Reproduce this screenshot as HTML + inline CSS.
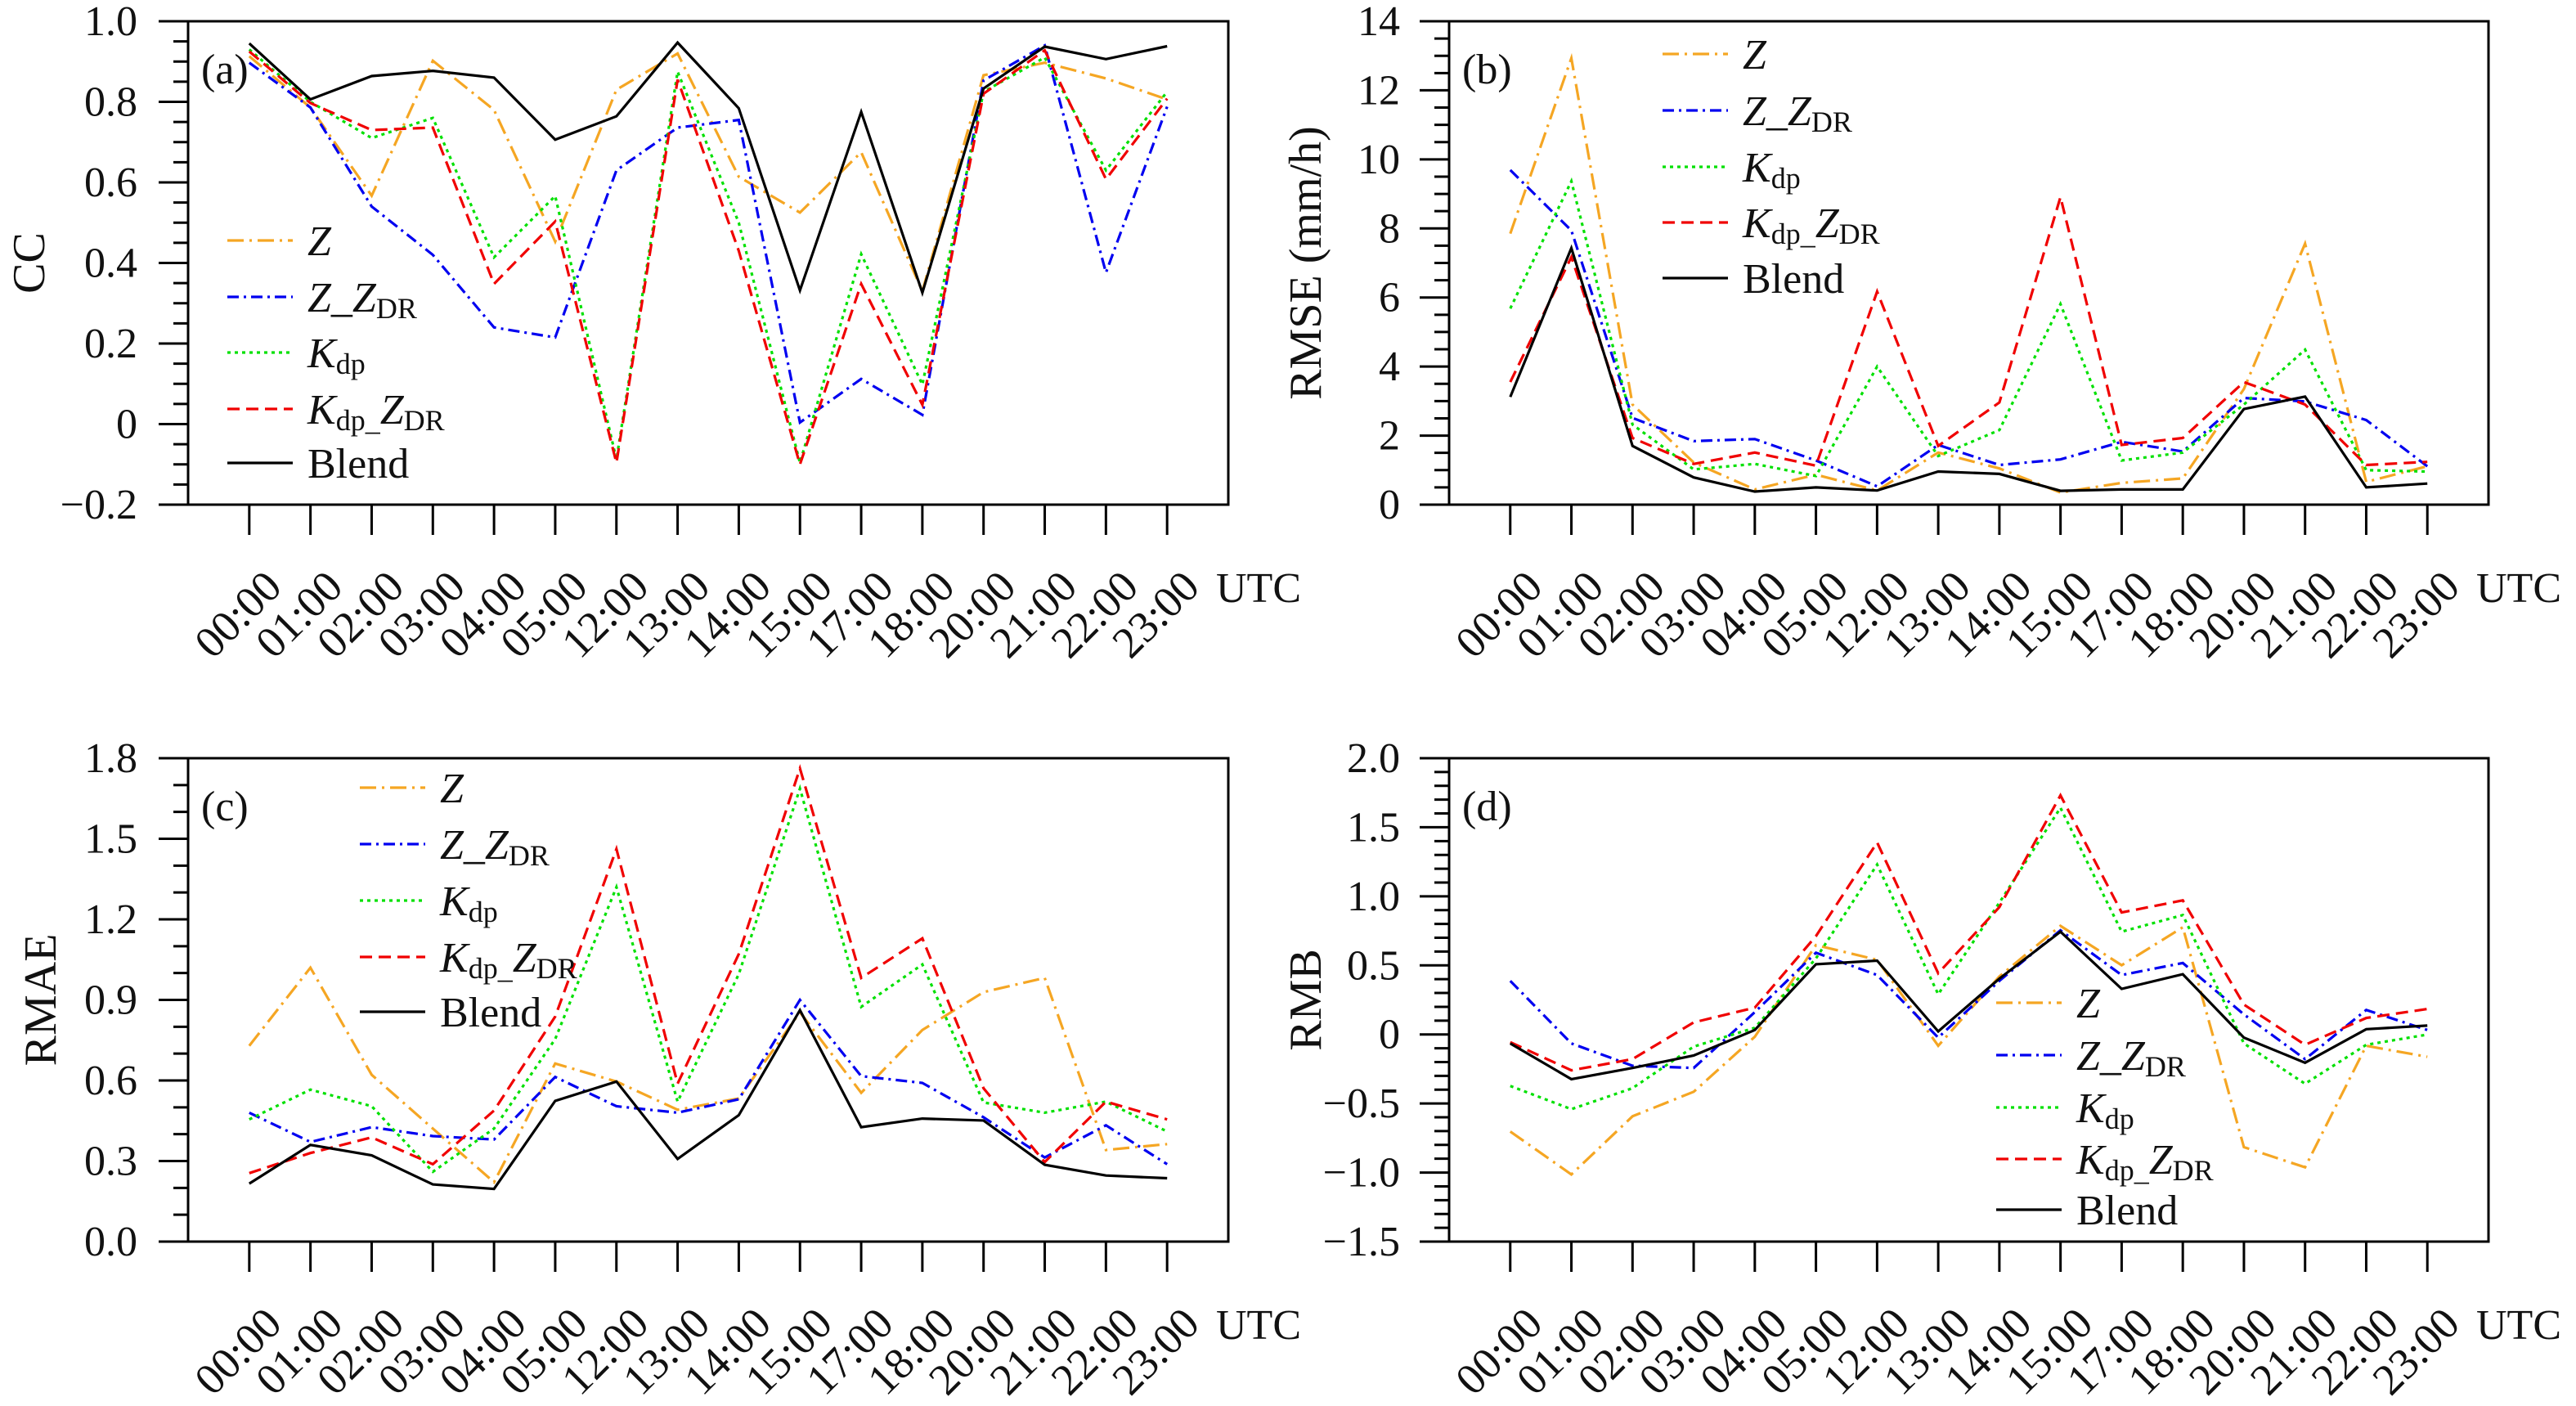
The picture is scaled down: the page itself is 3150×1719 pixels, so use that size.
<!DOCTYPE html>
<html><head><meta charset="utf-8"><style>
html,body{margin:0;padding:0;background:#fff;}
svg, svg text, svg tspan{font-family:"Liberation Serif","Times New Roman",serif;}
</style></head>
<body>
<svg id="fig" xmlns="http://www.w3.org/2000/svg" width="3150" height="1714" viewBox="0 0 3150 1714" font-family="Liberation Serif, serif">
<rect x="0" y="0" width="3150" height="1714" fill="#fff"/>
</svg>
<script>
const categories = ["00:00","01:00","02:00","03:00","04:00","05:00","12:00","13:00","14:00","15:00","17:00","18:00","20:00","21:00","22:00","23:00"];
// Panel (a) CC
const ccZ      = [0.913,0.786,0.567,0.902,0.78,0.453,0.83,0.92,0.614,0.525,0.675,0.33,0.866,0.897,0.858,0.806];
const ccZZdr   = [0.897,0.786,0.54,0.42,0.24,0.215,0.63,0.736,0.755,0.004,0.112,0.023,0.853,0.94,0.376,0.788];
const ccKdp    = [0.93,0.8,0.71,0.76,0.414,0.566,-0.088,0.875,0.5,-0.096,0.422,0.098,0.825,0.91,0.63,0.825];
const ccKdpZdr = [0.925,0.797,0.73,0.736,0.348,0.503,-0.096,0.855,0.43,-0.10,0.348,0.048,0.82,0.928,0.608,0.808];
const ccBlend  = [0.945,0.806,0.864,0.877,0.86,0.706,0.764,0.947,0.784,0.332,0.775,0.326,0.833,0.937,0.906,0.938];
// Panel (b) RMSE
const rmseZ      = [7.85,12.93,2.9,1.22,0.44,0.87,0.41,1.51,1.05,0.35,0.63,0.76,3.35,7.56,0.66,1.11];
const rmseZZdr   = [9.69,7.94,2.51,1.84,1.9,1.28,0.53,1.73,1.15,1.31,1.82,1.54,3.09,2.99,2.45,1.11];
const rmseKdp    = [5.68,9.37,2.32,1.02,1.18,0.83,4.0,1.41,2.16,5.81,1.28,1.51,2.9,4.49,1.0,0.96];
const rmseKdpZdr = [3.55,7.17,1.93,1.18,1.51,1.13,6.17,1.7,2.96,8.91,1.73,1.93,3.55,2.9,1.15,1.24];
const rmseBlend  = [3.12,7.43,1.7,0.79,0.38,0.5,0.41,0.96,0.89,0.4,0.44,0.44,2.77,3.13,0.5,0.61];
// Panel (c) RMAE
const rmaeZ      = [0.729,1.02,0.621,0.421,0.221,0.663,0.596,0.491,0.533,0.854,0.554,0.788,0.929,0.982,0.341,0.363];
const rmaeZZdr   = [0.48,0.371,0.426,0.393,0.38,0.613,0.504,0.48,0.53,0.9,0.616,0.591,0.463,0.313,0.433,0.288];
const rmaeKdp    = [0.455,0.566,0.504,0.26,0.421,0.754,1.32,0.521,0.996,1.687,0.874,1.032,0.518,0.48,0.521,0.41];
const rmaeKdpZdr = [0.255,0.33,0.388,0.288,0.488,0.838,1.462,0.588,1.071,1.762,0.982,1.129,0.571,0.296,0.521,0.455];
const rmaeBlend  = [0.216,0.36,0.321,0.213,0.196,0.524,0.596,0.308,0.471,0.862,0.426,0.458,0.451,0.286,0.246,0.236];
// Panel (d) RMB
const rmbZ      = [-0.703,-1.014,-0.593,-0.415,-0.017,0.647,0.54,-0.082,0.42,0.786,0.501,0.776,-0.816,-0.962,-0.082,-0.162];
const rmbZZdr   = [0.388,-0.065,-0.227,-0.243,0.161,0.592,0.43,-0.023,0.388,0.754,0.43,0.517,0.145,-0.179,0.177,0.032];
const rmbKdp    = [-0.373,-0.541,-0.389,-0.088,0.048,0.55,1.23,0.291,0.954,1.641,0.744,0.864,-0.065,-0.357,-0.075,-0.001];
const rmbKdpZdr = [-0.056,-0.26,-0.179,0.087,0.194,0.712,1.39,0.443,0.922,1.731,0.883,0.971,0.216,-0.075,0.119,0.184];
const rmbBlend  = [-0.065,-0.324,-0.243,-0.153,0.032,0.508,0.534,0.022,0.404,0.744,0.33,0.436,-0.023,-0.205,0.038,0.064];
// tick labels
const ccTicks = [1.0,0.8,0.6,0.4,0.2,0,-0.2];
const ccTickLabels = ["1.0","0.8","0.6","0.4","0.2","0","\u22120.2"];
const rmseTicks = [0,2,4,6,8,10,12,14];
const rmseTickLabels = ["0","2","4","6","8","10","12","14"];
const rmaeTicks = [0,0.3,0.6,0.9,1.2,1.5,1.8];
const rmaeTickLabels = ["0.0","0.3","0.6","0.9","1.2","1.5","1.8"];
const rmbTicks = [2.0,1.5,1.0,0.5,0,-0.5,-1.0,-1.5];
const rmbTickLabels = ["2.0","1.5","1.0","0.5","0","\u22120.5","\u22121.0","\u22121.5"];

const NS = "http://www.w3.org/2000/svg";
const FONT = "'Liberation Serif', 'Times New Roman', serif";
const svg = document.getElementById("fig");
function mk(tag, attrs, parent){
  const e = document.createElementNS(NS, tag);
  for (const k in attrs) e.setAttribute(k, attrs[k]);
  if (tag==="text") e.setAttribute("font-family", FONT);
  (parent||svg).appendChild(e);
  return e;
}
const styles = {
  Z:{color:"#F5A623",dash:"20,7,3,7"},
  ZZdr:{color:"#0000F0",dash:"14,6,3,6"},
  Kdp:{color:"#00E000",dash:"4,5"},
  KdpZdr:{color:"#F00000",dash:"15,8"},
  Blend:{color:"#000",dash:"none"}
};

function legendLabel(g, key, x, y){
  const t = mk("text",{x:x,y:y+18,"font-size":52,fill:"#111"},g);
  function sp(txt, opts){
    const s = document.createElementNS(NS,"tspan");
    s.textContent = txt;
    for (const k in opts) s.setAttribute(k, opts[k]);
    t.appendChild(s);
  }
  if (key==="Z"){ sp("Z",{"font-style":"italic"}); }
  else if (key==="ZZdr"){ sp("Z",{"font-style":"italic"}); sp("_"); sp("Z",{"font-style":"italic"}); sp("DR",{"font-size":36,dy:8}); }
  else if (key==="Kdp"){ sp("K",{"font-style":"italic"}); sp("dp",{"font-size":36,dy:8}); }
  else if (key==="KdpZdr"){ sp("K",{"font-style":"italic"}); sp("dp_",{"font-size":36,dy:8}); sp("Z",{"font-style":"italic","font-size":52,dy:-8}); sp("DR",{"font-size":36,dy:8}); }
  else { sp("Blend"); }
  return t;
}

function panel(cfg){
  const g = mk("g",{});
  
  
  const L=cfg.L, R=cfg.R, T=cfg.T, B=cfg.B;
  const step=(R-L)/17;
  const xp = i => L + step*(i+1);
  const yp = v => B - (v-cfg.min)/(cfg.max-cfg.min)*(B-T);
  const fr = mk("rect",{x:L,y:T,width:R-L,height:B-T,fill:"none",stroke:"#000","stroke-width":3},g);
  
  
  const yAxis = mk("g",{},g);
  
  
  const nMinor = Math.round((cfg.max-cfg.min)/cfg.minor);
  for (let k=0;k<=nMinor;k++){
    const v = cfg.min + k*cfg.minor;
    const y = yp(v);
    const isMajor = cfg.ticks.some(t=>Math.abs(t-v)<1e-6);
    mk("line",{x1:isMajor?L-36:L-18,x2:L,y1:y,y2:y,stroke:"#000","stroke-width":3},yAxis);
  }
  cfg.ticks.forEach((t,i)=>{
    const tx = mk("text",{x:L-cfg.labGap,y:yp(t)+17,"font-size":52,"text-anchor":"end",fill:"#111"},yAxis);
    tx.textContent = cfg.tickLabels[i];
    
    
  });
  const xAxis = mk("g",{},g);
  
  
  categories.forEach((c,i)=>{
    const x = xp(i);
    mk("line",{x1:x,x2:x,y1:B,y2:B+37,stroke:"#000","stroke-width":3},xAxis);
    const tx = mk("text",{x:0,y:0,"font-size":54,"text-anchor":"middle","dominant-baseline":"central",fill:"#111",
      transform:`translate(${x-14},${B+134}) rotate(-45)`},xAxis);
    tx.textContent = c;
    
    
  });
  const utc = mk("text",{x:R-15,y:B+119,"font-size":52,fill:"#111"},xAxis);
  utc.textContent = "UTC";
  
  
  const yt = mk("text",{x:0,y:0,"font-size":56,"text-anchor":"middle","dominant-baseline":"central",fill:"#111",
    transform:`translate(${cfg.ytX},${(T+B)/2+cfg.ytDy}) rotate(-90)`},g);
  yt.textContent = cfg.ytitle;
  
  
  const pl = mk("text",{x:L+16,y:T+76,"font-size":52,fill:"#111"},g);
  pl.textContent = cfg.label;
  
  
  const keys=["Z","ZZdr","Kdp","KdpZdr","Blend"];
  keys.forEach(k=>{
    const vals = cfg.series[k];
    const pts = vals.map((v,i)=>xp(i).toFixed(1)+","+yp(v).toFixed(1)).join(" ");
    const pl2 = mk("polyline",{points:pts,fill:"none",stroke:styles[k].color,"stroke-width":3.2,
      "stroke-dasharray":styles[k].dash,"stroke-linejoin":"miter"},g);
    
    
  });
  const lg = mk("g",{},g);
  
  
  keys.forEach((k,i)=>{
    const y = cfg.legY[i];
    const e = mk("g",{},lg);
    
    
    mk("line",{x1:cfg.legX,x2:cfg.legX+80,y1:y,y2:y,stroke:styles[k].color,"stroke-width":3.2,"stroke-dasharray":styles[k].dash},e);
    legendLabel(e,k,cfg.legX+98,y);
  });
}

panel({name:"panel-a-cc",label:"(a)",L:230,R:1502,T:26,B:617,min:-0.2,max:1.0,minor:0.05,
  ticks:ccTicks,tickLabels:ccTickLabels,labGap:62,ytitle:"CC",ytX:36,ytDy:0,
  series:{Z:ccZ,ZZdr:ccZZdr,Kdp:ccKdp,KdpZdr:ccKdpZdr,Blend:ccBlend},
  legX:278,legY:[294,363,431,500,566]});
panel({name:"panel-b-rmse",label:"(b)",L:1772,R:3043,T:26,B:617,min:0,max:14,minor:0.5,
  ticks:rmseTicks,tickLabels:rmseTickLabels,labGap:60,ytitle:"RMSE (mm/h)",ytX:1597,ytDy:0,
  series:{Z:rmseZ,ZZdr:rmseZZdr,Kdp:rmseKdp,KdpZdr:rmseKdpZdr,Blend:rmseBlend},
  legX:2033,legY:[66,135,204,272,340]});
panel({name:"panel-c-rmae",label:"(c)",L:230,R:1502,T:927,B:1518,min:0,max:1.8,minor:0.1,
  ticks:rmaeTicks,tickLabels:rmaeTickLabels,labGap:62,ytitle:"RMAE",ytX:50,ytDy:0,
  series:{Z:rmaeZ,ZZdr:rmaeZZdr,Kdp:rmaeKdp,KdpZdr:rmaeKdpZdr,Blend:rmaeBlend},
  legX:440,legY:[963,1032,1101,1170,1237]});
panel({name:"panel-d-rmb",label:"(d)",L:1772,R:3043,T:927,B:1518,min:-1.5,max:2.0,minor:0.1,
  ticks:rmbTicks,tickLabels:rmbTickLabels,labGap:60,ytitle:"RMB",ytX:1597,ytDy:0,
  series:{Z:rmbZ,ZZdr:rmbZZdr,Kdp:rmbKdp,KdpZdr:rmbKdpZdr,Blend:rmbBlend},
  legX:2441,legY:[1226,1290,1354,1417,1479]});
</script>
</body></html>
